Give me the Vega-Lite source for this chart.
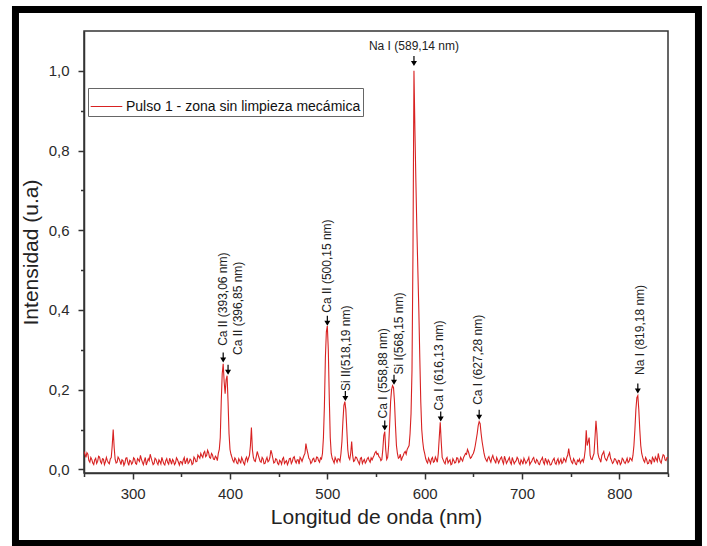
{
  "$schema": "https://vega.github.io/schema/vega-lite/v6.json",
  "width": 584,
  "height": 442,
  "autosize": {"type": "none"},
  "padding": {"left": 84, "top": 31, "right": 39, "bottom": 73},
  "background": "white",
  "config": {
    "font": "Liberation Sans",
    "view": {"stroke": "#333333", "strokeWidth": 1.5},
    "axis": {
      "grid": false,
      "domainColor": "#333333",
      "domainWidth": 1.5,
      "tickColor": "#333333",
      "tickWidth": 1.5,
      "labelFont": "Liberation Sans",
      "labelFontSize": 15,
      "labelColor": "#2a2a2a",
      "titleFont": "Liberation Sans",
      "titleFontSize": 21,
      "titleFontWeight": "normal",
      "titleColor": "#222222"
    }
  },
  "datasets": {
    "spectrum": [
      {"wl":250,"int":0.045},{"wl":251,"int":0.038},{"wl":252,"int":0.030},{"wl":253,"int":0.042},{"wl":254,"int":0.038},{"wl":255,"int":0.022},{"wl":256,"int":0.018},{"wl":257,"int":0.030},{"wl":258,"int":0.025},{"wl":259,"int":0.016},
      {"wl":260,"int":0.012},{"wl":261,"int":0.024},{"wl":262,"int":0.028},{"wl":263,"int":0.015},{"wl":264,"int":0.020},{"wl":265,"int":0.033},{"wl":266,"int":0.031},{"wl":267,"int":0.019},{"wl":268,"int":0.015},{"wl":269,"int":0.027},
      {"wl":270,"int":0.026},{"wl":271,"int":0.012},{"wl":272,"int":0.019},{"wl":273,"int":0.030},{"wl":274,"int":0.022},{"wl":275,"int":0.017},{"wl":276,"int":0.014},{"wl":277,"int":0.026},{"wl":278,"int":0.030},{"wl":279,"int":0.060},
      {"wl":280,"int":0.100},{"wl":281,"int":0.055},{"wl":282,"int":0.025},{"wl":283,"int":0.016},{"wl":284,"int":0.018},{"wl":285,"int":0.031},{"wl":286,"int":0.027},{"wl":287,"int":0.020},{"wl":288,"int":0.012},{"wl":289,"int":0.024},
      {"wl":290,"int":0.022},{"wl":291,"int":0.010},{"wl":292,"int":0.016},{"wl":293,"int":0.028},{"wl":294,"int":0.029},{"wl":295,"int":0.018},{"wl":296,"int":0.010},{"wl":297,"int":0.023},{"wl":298,"int":0.021},{"wl":299,"int":0.013},
      {"wl":300,"int":0.017},{"wl":301,"int":0.029},{"wl":302,"int":0.026},{"wl":303,"int":0.015},{"wl":304,"int":0.013},{"wl":305,"int":0.027},{"wl":306,"int":0.024},{"wl":307,"int":0.020},{"wl":308,"int":0.035},{"wl":309,"int":0.026},
      {"wl":310,"int":0.018},{"wl":311,"int":0.012},{"wl":312,"int":0.022},{"wl":313,"int":0.030},{"wl":314,"int":0.011},{"wl":315,"int":0.019},{"wl":316,"int":0.027},{"wl":317,"int":0.022},{"wl":318,"int":0.038},{"wl":319,"int":0.029},
      {"wl":320,"int":0.020},{"wl":321,"int":0.012},{"wl":322,"int":0.015},{"wl":323,"int":0.028},{"wl":324,"int":0.025},{"wl":325,"int":0.017},{"wl":326,"int":0.012},{"wl":327,"int":0.024},{"wl":328,"int":0.020},{"wl":329,"int":0.014},
      {"wl":330,"int":0.030},{"wl":331,"int":0.022},{"wl":332,"int":0.014},{"wl":333,"int":0.011},{"wl":334,"int":0.022},{"wl":335,"int":0.027},{"wl":336,"int":0.017},{"wl":337,"int":0.013},{"wl":338,"int":0.028},{"wl":339,"int":0.021},
      {"wl":340,"int":0.013},{"wl":341,"int":0.025},{"wl":342,"int":0.021},{"wl":343,"int":0.012},{"wl":344,"int":0.016},{"wl":345,"int":0.029},{"wl":346,"int":0.025},{"wl":347,"int":0.018},{"wl":348,"int":0.011},{"wl":349,"int":0.020},
      {"wl":350,"int":0.019},{"wl":351,"int":0.013},{"wl":352,"int":0.024},{"wl":353,"int":0.030},{"wl":354,"int":0.014},{"wl":355,"int":0.021},{"wl":356,"int":0.029},{"wl":357,"int":0.015},{"wl":358,"int":0.018},{"wl":359,"int":0.026},
      {"wl":360,"int":0.023},{"wl":361,"int":0.012},{"wl":362,"int":0.015},{"wl":363,"int":0.031},{"wl":364,"int":0.027},{"wl":365,"int":0.019},{"wl":366,"int":0.020},{"wl":367,"int":0.036},{"wl":368,"int":0.032},{"wl":369,"int":0.028},
      {"wl":370,"int":0.040},{"wl":371,"int":0.034},{"wl":372,"int":0.030},{"wl":373,"int":0.041},{"wl":374,"int":0.045},{"wl":375,"int":0.032},{"wl":376,"int":0.035},{"wl":377,"int":0.048},{"wl":378,"int":0.042},{"wl":379,"int":0.030},
      {"wl":380,"int":0.028},{"wl":381,"int":0.040},{"wl":382,"int":0.036},{"wl":383,"int":0.026},{"wl":384,"int":0.025},{"wl":385,"int":0.033},{"wl":386,"int":0.030},{"wl":387,"int":0.022},{"wl":388,"int":0.040},{"wl":389,"int":0.050},
      {"wl":390,"int":0.080},{"wl":391,"int":0.170},{"wl":392,"int":0.240},{"wl":393,"int":0.265},{"wl":394,"int":0.220},{"wl":395,"int":0.190},{"wl":396,"int":0.225},{"wl":397,"int":0.235},{"wl":398,"int":0.170},{"wl":399,"int":0.090},
      {"wl":400,"int":0.050},{"wl":401,"int":0.038},{"wl":402,"int":0.030},{"wl":403,"int":0.022},{"wl":404,"int":0.018},{"wl":405,"int":0.029},{"wl":406,"int":0.025},{"wl":407,"int":0.016},{"wl":408,"int":0.014},{"wl":409,"int":0.027},
      {"wl":410,"int":0.022},{"wl":411,"int":0.015},{"wl":412,"int":0.030},{"wl":413,"int":0.024},{"wl":414,"int":0.016},{"wl":415,"int":0.012},{"wl":416,"int":0.026},{"wl":417,"int":0.031},{"wl":418,"int":0.020},{"wl":419,"int":0.028},
      {"wl":420,"int":0.035},{"wl":421,"int":0.060},{"wl":422,"int":0.105},{"wl":423,"int":0.050},{"wl":424,"int":0.030},{"wl":425,"int":0.022},{"wl":426,"int":0.020},{"wl":427,"int":0.032},{"wl":428,"int":0.045},{"wl":429,"int":0.036},
      {"wl":430,"int":0.028},{"wl":431,"int":0.020},{"wl":432,"int":0.018},{"wl":433,"int":0.030},{"wl":434,"int":0.026},{"wl":435,"int":0.014},{"wl":436,"int":0.015},{"wl":437,"int":0.024},{"wl":438,"int":0.030},{"wl":439,"int":0.019},
      {"wl":440,"int":0.022},{"wl":441,"int":0.030},{"wl":442,"int":0.048},{"wl":443,"int":0.040},{"wl":444,"int":0.028},{"wl":445,"int":0.016},{"wl":446,"int":0.018},{"wl":447,"int":0.027},{"wl":448,"int":0.025},{"wl":449,"int":0.015},
      {"wl":450,"int":0.012},{"wl":451,"int":0.023},{"wl":452,"int":0.020},{"wl":453,"int":0.013},{"wl":454,"int":0.026},{"wl":455,"int":0.030},{"wl":456,"int":0.015},{"wl":457,"int":0.019},{"wl":458,"int":0.022},{"wl":459,"int":0.012},
      {"wl":460,"int":0.018},{"wl":461,"int":0.027},{"wl":462,"int":0.028},{"wl":463,"int":0.015},{"wl":464,"int":0.020},{"wl":465,"int":0.029},{"wl":466,"int":0.032},{"wl":467,"int":0.021},{"wl":468,"int":0.016},{"wl":469,"int":0.024},
      {"wl":470,"int":0.024},{"wl":471,"int":0.013},{"wl":472,"int":0.030},{"wl":473,"int":0.026},{"wl":474,"int":0.020},{"wl":475,"int":0.028},{"wl":476,"int":0.035},{"wl":477,"int":0.040},{"wl":478,"int":0.065},{"wl":479,"int":0.050},
      {"wl":480,"int":0.040},{"wl":481,"int":0.028},{"wl":482,"int":0.025},{"wl":483,"int":0.015},{"wl":484,"int":0.018},{"wl":485,"int":0.026},{"wl":486,"int":0.028},{"wl":487,"int":0.019},{"wl":488,"int":0.020},{"wl":489,"int":0.031},
      {"wl":490,"int":0.030},{"wl":491,"int":0.022},{"wl":492,"int":0.018},{"wl":493,"int":0.029},{"wl":494,"int":0.026},{"wl":495,"int":0.040},{"wl":496,"int":0.080},{"wl":497,"int":0.160},{"wl":498,"int":0.280},{"wl":499,"int":0.345},
      {"wl":500,"int":0.360},{"wl":501,"int":0.300},{"wl":502,"int":0.180},{"wl":503,"int":0.080},{"wl":504,"int":0.040},{"wl":505,"int":0.028},{"wl":506,"int":0.022},{"wl":507,"int":0.016},{"wl":508,"int":0.030},{"wl":509,"int":0.024},
      {"wl":510,"int":0.018},{"wl":511,"int":0.027},{"wl":512,"int":0.026},{"wl":513,"int":0.020},{"wl":514,"int":0.040},{"wl":515,"int":0.070},{"wl":516,"int":0.120},{"wl":517,"int":0.160},{"wl":518,"int":0.170},{"wl":519,"int":0.150},
      {"wl":520,"int":0.100},{"wl":521,"int":0.050},{"wl":522,"int":0.030},{"wl":523,"int":0.025},{"wl":524,"int":0.040},{"wl":525,"int":0.070},{"wl":526,"int":0.035},{"wl":527,"int":0.020},{"wl":528,"int":0.022},{"wl":529,"int":0.031},
      {"wl":530,"int":0.030},{"wl":531,"int":0.024},{"wl":532,"int":0.018},{"wl":533,"int":0.013},{"wl":534,"int":0.028},{"wl":535,"int":0.030},{"wl":536,"int":0.015},{"wl":537,"int":0.021},{"wl":538,"int":0.025},{"wl":539,"int":0.016},
      {"wl":540,"int":0.020},{"wl":541,"int":0.027},{"wl":542,"int":0.030},{"wl":543,"int":0.022},{"wl":544,"int":0.018},{"wl":545,"int":0.029},{"wl":546,"int":0.024},{"wl":547,"int":0.030},{"wl":548,"int":0.035},{"wl":549,"int":0.042},
      {"wl":550,"int":0.045},{"wl":551,"int":0.038},{"wl":552,"int":0.040},{"wl":553,"int":0.032},{"wl":554,"int":0.030},{"wl":555,"int":0.022},{"wl":556,"int":0.025},{"wl":557,"int":0.050},{"wl":558,"int":0.085},{"wl":559,"int":0.095},
      {"wl":560,"int":0.050},{"wl":561,"int":0.025},{"wl":562,"int":0.030},{"wl":563,"int":0.060},{"wl":564,"int":0.110},{"wl":565,"int":0.170},{"wl":566,"int":0.200},{"wl":567,"int":0.210},{"wl":568,"int":0.205},{"wl":569,"int":0.170},
      {"wl":570,"int":0.110},{"wl":571,"int":0.060},{"wl":572,"int":0.040},{"wl":573,"int":0.028},{"wl":574,"int":0.030},{"wl":575,"int":0.038},{"wl":576,"int":0.022},{"wl":577,"int":0.030},{"wl":578,"int":0.035},{"wl":579,"int":0.042},
      {"wl":580,"int":0.045},{"wl":581,"int":0.038},{"wl":582,"int":0.050},{"wl":583,"int":0.055},{"wl":584,"int":0.060},{"wl":585,"int":0.090},{"wl":586,"int":0.140},{"wl":587,"int":0.250},{"wl":588,"int":0.550},{"wl":589,"int":1.000},
      {"wl":590,"int":0.850},{"wl":591,"int":0.720},{"wl":592,"int":0.600},{"wl":593,"int":0.500},{"wl":594,"int":0.400},{"wl":595,"int":0.280},{"wl":596,"int":0.170},{"wl":597,"int":0.100},{"wl":598,"int":0.070},{"wl":599,"int":0.050},
      {"wl":600,"int":0.040},{"wl":601,"int":0.028},{"wl":602,"int":0.020},{"wl":603,"int":0.016},{"wl":604,"int":0.028},{"wl":605,"int":0.022},{"wl":606,"int":0.015},{"wl":607,"int":0.026},{"wl":608,"int":0.030},{"wl":609,"int":0.018},
      {"wl":610,"int":0.020},{"wl":611,"int":0.031},{"wl":612,"int":0.025},{"wl":613,"int":0.018},{"wl":614,"int":0.040},{"wl":615,"int":0.080},{"wl":616,"int":0.118},{"wl":617,"int":0.070},{"wl":618,"int":0.030},{"wl":619,"int":0.024},
      {"wl":620,"int":0.018},{"wl":621,"int":0.014},{"wl":622,"int":0.026},{"wl":623,"int":0.030},{"wl":624,"int":0.016},{"wl":625,"int":0.021},{"wl":626,"int":0.024},{"wl":627,"int":0.012},{"wl":628,"int":0.014},{"wl":629,"int":0.027},
      {"wl":630,"int":0.022},{"wl":631,"int":0.016},{"wl":632,"int":0.018},{"wl":633,"int":0.029},{"wl":634,"int":0.028},{"wl":635,"int":0.017},{"wl":636,"int":0.020},{"wl":637,"int":0.030},{"wl":638,"int":0.025},{"wl":639,"int":0.021},
      {"wl":640,"int":0.030},{"wl":641,"int":0.035},{"wl":642,"int":0.040},{"wl":643,"int":0.038},{"wl":644,"int":0.050},{"wl":645,"int":0.044},{"wl":646,"int":0.035},{"wl":647,"int":0.028},{"wl":648,"int":0.030},{"wl":649,"int":0.036},
      {"wl":650,"int":0.040},{"wl":651,"int":0.048},{"wl":652,"int":0.060},{"wl":653,"int":0.075},{"wl":654,"int":0.090},{"wl":655,"int":0.110},{"wl":656,"int":0.120},{"wl":657,"int":0.115},{"wl":658,"int":0.090},{"wl":659,"int":0.070},
      {"wl":660,"int":0.055},{"wl":661,"int":0.040},{"wl":662,"int":0.030},{"wl":663,"int":0.024},{"wl":664,"int":0.020},{"wl":665,"int":0.028},{"wl":666,"int":0.032},{"wl":667,"int":0.024},{"wl":668,"int":0.018},{"wl":669,"int":0.029},
      {"wl":670,"int":0.035},{"wl":671,"int":0.026},{"wl":672,"int":0.022},{"wl":673,"int":0.015},{"wl":674,"int":0.030},{"wl":675,"int":0.024},{"wl":676,"int":0.016},{"wl":677,"int":0.022},{"wl":678,"int":0.028},{"wl":679,"int":0.031},
      {"wl":680,"int":0.020},{"wl":681,"int":0.014},{"wl":682,"int":0.033},{"wl":683,"int":0.025},{"wl":684,"int":0.015},{"wl":685,"int":0.020},{"wl":686,"int":0.025},{"wl":687,"int":0.030},{"wl":688,"int":0.018},{"wl":689,"int":0.013},
      {"wl":690,"int":0.030},{"wl":691,"int":0.022},{"wl":692,"int":0.014},{"wl":693,"int":0.019},{"wl":694,"int":0.022},{"wl":695,"int":0.030},{"wl":696,"int":0.026},{"wl":697,"int":0.016},{"wl":698,"int":0.012},{"wl":699,"int":0.024},
      {"wl":700,"int":0.020},{"wl":701,"int":0.013},{"wl":702,"int":0.028},{"wl":703,"int":0.022},{"wl":704,"int":0.015},{"wl":705,"int":0.019},{"wl":706,"int":0.024},{"wl":707,"int":0.030},{"wl":708,"int":0.012},{"wl":709,"int":0.017},
      {"wl":710,"int":0.020},{"wl":711,"int":0.027},{"wl":712,"int":0.030},{"wl":713,"int":0.019},{"wl":714,"int":0.016},{"wl":715,"int":0.025},{"wl":716,"int":0.022},{"wl":717,"int":0.014},{"wl":718,"int":0.012},{"wl":719,"int":0.021},
      {"wl":720,"int":0.025},{"wl":721,"int":0.030},{"wl":722,"int":0.018},{"wl":723,"int":0.013},{"wl":724,"int":0.028},{"wl":725,"int":0.021},{"wl":726,"int":0.014},{"wl":727,"int":0.024},{"wl":728,"int":0.020},{"wl":729,"int":0.011},
      {"wl":730,"int":0.012},{"wl":731,"int":0.019},{"wl":732,"int":0.024},{"wl":733,"int":0.028},{"wl":734,"int":0.016},{"wl":735,"int":0.013},{"wl":736,"int":0.022},{"wl":737,"int":0.027},{"wl":738,"int":0.014},{"wl":739,"int":0.020},
      {"wl":740,"int":0.026},{"wl":741,"int":0.015},{"wl":742,"int":0.018},{"wl":743,"int":0.028},{"wl":744,"int":0.024},{"wl":745,"int":0.019},{"wl":746,"int":0.030},{"wl":747,"int":0.036},{"wl":748,"int":0.052},{"wl":749,"int":0.035},
      {"wl":750,"int":0.025},{"wl":751,"int":0.018},{"wl":752,"int":0.015},{"wl":753,"int":0.027},{"wl":754,"int":0.022},{"wl":755,"int":0.014},{"wl":756,"int":0.012},{"wl":757,"int":0.023},{"wl":758,"int":0.020},{"wl":759,"int":0.026},
      {"wl":760,"int":0.016},{"wl":761,"int":0.021},{"wl":762,"int":0.025},{"wl":763,"int":0.019},{"wl":764,"int":0.030},{"wl":765,"int":0.050},{"wl":766,"int":0.098},{"wl":767,"int":0.060},{"wl":768,"int":0.070},{"wl":769,"int":0.080},
      {"wl":770,"int":0.035},{"wl":771,"int":0.026},{"wl":772,"int":0.025},{"wl":773,"int":0.033},{"wl":774,"int":0.040},{"wl":775,"int":0.080},{"wl":776,"int":0.122},{"wl":777,"int":0.090},{"wl":778,"int":0.040},{"wl":779,"int":0.030},
      {"wl":780,"int":0.025},{"wl":781,"int":0.018},{"wl":782,"int":0.035},{"wl":783,"int":0.040},{"wl":784,"int":0.045},{"wl":785,"int":0.030},{"wl":786,"int":0.025},{"wl":787,"int":0.022},{"wl":788,"int":0.030},{"wl":789,"int":0.036},
      {"wl":790,"int":0.042},{"wl":791,"int":0.028},{"wl":792,"int":0.022},{"wl":793,"int":0.015},{"wl":794,"int":0.018},{"wl":795,"int":0.027},{"wl":796,"int":0.026},{"wl":797,"int":0.020},{"wl":798,"int":0.014},{"wl":799,"int":0.023},
      {"wl":800,"int":0.022},{"wl":801,"int":0.012},{"wl":802,"int":0.016},{"wl":803,"int":0.028},{"wl":804,"int":0.025},{"wl":805,"int":0.018},{"wl":806,"int":0.015},{"wl":807,"int":0.021},{"wl":808,"int":0.028},{"wl":809,"int":0.017},
      {"wl":810,"int":0.020},{"wl":811,"int":0.029},{"wl":812,"int":0.026},{"wl":813,"int":0.022},{"wl":814,"int":0.035},{"wl":815,"int":0.060},{"wl":816,"int":0.100},{"wl":817,"int":0.150},{"wl":818,"int":0.180},{"wl":819,"int":0.185},
      {"wl":820,"int":0.150},{"wl":821,"int":0.100},{"wl":822,"int":0.060},{"wl":823,"int":0.040},{"wl":824,"int":0.030},{"wl":825,"int":0.022},{"wl":826,"int":0.018},{"wl":827,"int":0.030},{"wl":828,"int":0.025},{"wl":829,"int":0.014},
      {"wl":830,"int":0.015},{"wl":831,"int":0.024},{"wl":832,"int":0.022},{"wl":833,"int":0.013},{"wl":834,"int":0.030},{"wl":835,"int":0.026},{"wl":836,"int":0.018},{"wl":837,"int":0.031},{"wl":838,"int":0.026},{"wl":839,"int":0.020},
      {"wl":840,"int":0.040},{"wl":841,"int":0.028},{"wl":842,"int":0.020},{"wl":843,"int":0.016},{"wl":844,"int":0.028},{"wl":845,"int":0.037},{"wl":846,"int":0.035},{"wl":847,"int":0.024},{"wl":848,"int":0.022},{"wl":849,"int":0.030},
      {"wl":850,"int":0.030}
    ],
    "lines": [
      {"label":"Ca II (393,06 nm)","tx":392.8,"ty":0.310,"ax":393,"ay":0.281},
      {"label":"Ca II (396,85 nm)","tx":408.2,"ty":0.287,"ax":398,"ay":0.250},
      {"label":"Ca II (500,15 nm)","tx":499.7,"ty":0.393,"ax":500,"ay":0.373},
      {"label":"Si II(518,19 nm)","tx":519.2,"ty":0.197,"ax":518.5,"ay":0.184},
      {"label":"Ca I (558,88 nm)","tx":557.2,"ty":0.128,"ax":559,"ay":0.110},
      {"label":"Si I(568,15 nm)","tx":573.6,"ty":0.238,"ax":568.5,"ay":0.225},
      {"label":"Ca I (616,13 nm)","tx":614.7,"ty":0.148,"ax":616.5,"ay":0.133},
      {"label":"Ca I (627,28 nm)","tx":654.8,"ty":0.162,"ax":656,"ay":0.137},
      {"label":"Na I (819,18 nm)","tx":821.2,"ty":0.237,"ax":819,"ay":0.203},
      {"label":"Na I (589,14 nm)","tx":589,"ty":1.062,"ax":589,"ay":1.025}
    ]
  },
  "resolve": {"axis": {"x": "independent", "y": "independent"}},
  "layer": [
    {
      "description": "thick black frame around the figure",
      "data": {"values": [{}]},
      "mark": {"type": "rect", "fill": "transparent", "stroke": "black", "strokeWidth": 7, "clip": false},
      "encoding": {
        "x": {"datum": 179.6, "type": "quantitative", "scale": {"domain": [250, 850], "nice": false, "zero": false}, "axis": null},
        "x2": {"datum": 881.3},
        "y": {"datum": 1.154, "type": "quantitative", "scale": {"domain": [-0.009, 1.1], "nice": false, "zero": false}, "axis": null},
        "y2": {"datum": -0.186}
      }
    },
    {
      "data": {"name": "spectrum"},
      "mark": {"type": "line", "strokeWidth": 1.1, "clip": true},
      "encoding": {
        "x": {
          "field": "wl", "type": "quantitative",
          "scale": {"domain": [250, 850], "nice": false, "zero": false},
          "axis": {
            "orient": "bottom", "title": "Longitud de onda (nm)",
            "values": [300, 400, 500, 600, 700, 800],
            "tickSize": 6, "labelPadding": 7, "titlePadding": 5, "labelFlush": false
          }
        },
        "y": {
          "field": "int", "type": "quantitative",
          "scale": {"domain": [-0.009, 1.1], "nice": false, "zero": false},
          "axis": {
            "orient": "left", "title": "Intensidad (u.a)",
            "values": [0, 0.2, 0.4, 0.6, 0.8, 1.0],
            "labelExpr": "replace(format(datum.value, '.1f'), '.', ',')",
            "tickSize": 6, "labelPadding": 9, "titlePadding": 7, "labelFlush": false
          }
        },
        "color": {
          "datum": "Pulso 1 - zona sin limpieza mecámica",
          "type": "nominal",
          "scale": {"range": ["#d82222"]},
          "legend": {
            "orient": "none", "legendX": 4, "legendY": 57, "title": null,
            "symbolType": "stroke", "symbolSize": 1000, "symbolStrokeWidth": 1,
            "labelFont": "Liberation Sans", "labelFontSize": 14, "labelColor": "#111111",
            "labelLimit": 0, "labelOffset": 3, "padding": 2,
            "strokeColor": "#666666", "fillColor": "white"
          }
        }
      }
    },
    {
      "description": "minor ticks on both axes",
      "data": {"name": "spectrum"},
      "mark": {"type": "line", "opacity": 0},
      "encoding": {
        "x": {
          "field": "wl", "type": "quantitative",
          "scale": {"domain": [250, 850], "nice": false, "zero": false},
          "axis": {"orient": "bottom", "title": null, "labels": false, "domain": false,
                   "values": [250, 350, 450, 550, 650, 750, 850], "tickSize": 3.5}
        },
        "y": {
          "field": "int", "type": "quantitative",
          "scale": {"domain": [-0.009, 1.1], "nice": false, "zero": false},
          "axis": {"orient": "left", "title": null, "labels": false, "domain": false,
                   "values": [0.1, 0.3, 0.5, 0.7, 0.9], "tickSize": 3.5}
        }
      }
    },
    {
      "description": "arrows pointing at the emission lines",
      "data": {"name": "lines"},
      "mark": {"type": "point", "filled": true, "color": "black", "opacity": 1, "size": 100,
               "shape": "M-0.12,-1L0.12,-1L0.12,0L0.6,0L0,1L-0.6,0L-0.12,0Z"},
      "encoding": {
        "x": {"field": "ax", "type": "quantitative", "scale": {"domain": [250, 850], "nice": false, "zero": false}, "axis": null},
        "y": {"field": "ay", "type": "quantitative", "scale": {"domain": [-0.009, 1.1], "nice": false, "zero": false}, "axis": null}
      }
    },
    {
      "description": "vertical line labels",
      "data": {"name": "lines"},
      "transform": [{"filter": "datum.label !== 'Na I (589,14 nm)'"}],
      "mark": {"type": "text", "angle": 270, "align": "left", "baseline": "middle",
               "font": "Liberation Sans", "fontSize": 12, "color": "#222222"},
      "encoding": {
        "x": {"field": "tx", "type": "quantitative", "scale": {"domain": [250, 850], "nice": false, "zero": false}, "axis": null},
        "y": {"field": "ty", "type": "quantitative", "scale": {"domain": [-0.009, 1.1], "nice": false, "zero": false}, "axis": null},
        "text": {"field": "label"}
      }
    },
    {
      "description": "label of the strongest line, written horizontally",
      "data": {"name": "lines"},
      "transform": [{"filter": "datum.label === 'Na I (589,14 nm)'"}],
      "mark": {"type": "text", "align": "center", "baseline": "middle",
               "font": "Liberation Sans", "fontSize": 12, "color": "#222222"},
      "encoding": {
        "x": {"field": "tx", "type": "quantitative", "scale": {"domain": [250, 850], "nice": false, "zero": false}, "axis": null},
        "y": {"field": "ty", "type": "quantitative", "scale": {"domain": [-0.009, 1.1], "nice": false, "zero": false}, "axis": null},
        "text": {"field": "label"}
      }
    }
  ]
}
